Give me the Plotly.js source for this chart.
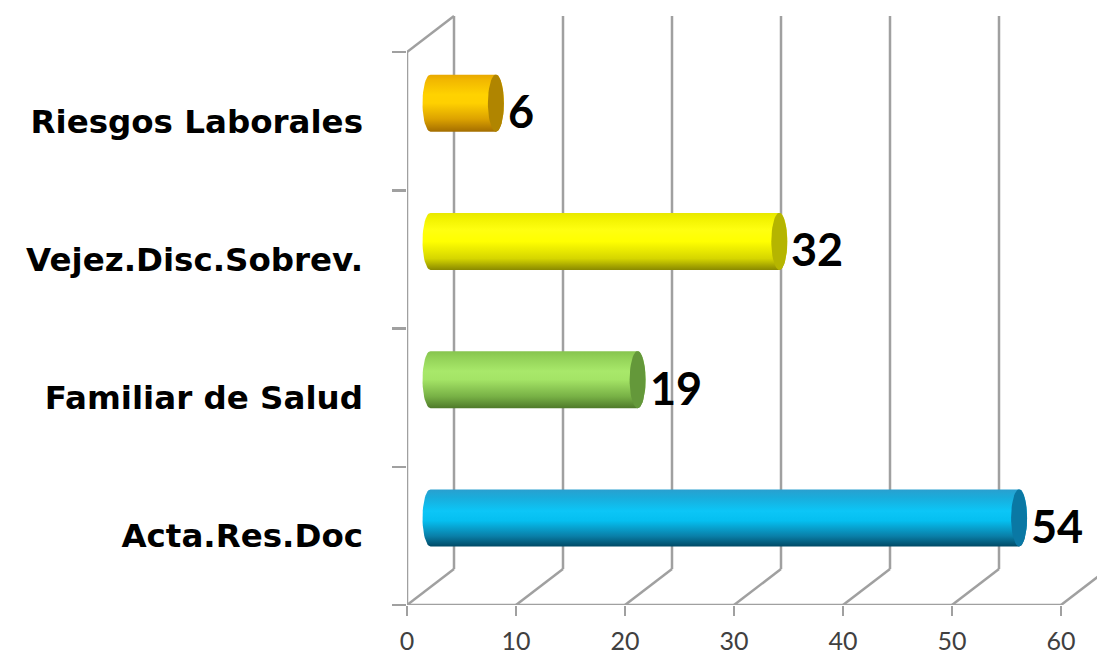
<!DOCTYPE html>
<html>
<head>
<meta charset="utf-8">
<script src="https://cdn.plot.ly/plotly-3.0.1.min.js"></script>
<style>html,body{margin:0;padding:0;background:#fff;}#chart{width:1097px;height:660px;}</style>
</head>
<body>
<div id="chart"></div>
<script>
// ---- data ----
const categories = ['Acta.Res.Doc', 'Familiar de Salud', 'Vejez.Disc.Sobrev.', 'Riesgos Laborales'];
const values = [54, 19, 32, 6];
const xTicks = [0, 10, 20, 30, 40, 50, 60];
const valueLabels = ['54', '19', '32', '6'];

// ---- styles ----
const bodyScales = [
  [[0,'#004a66'],[0.18,'#0a7fa8'],[0.45,'#05bff0'],[0.62,'#0cc6f7'],[0.85,'#19addc'],[1,'#2a9fcf']],
  [[0,'#4f7a2a'],[0.2,'#77b045'],[0.5,'#a4e466'],[0.65,'#a8e86a'],[0.88,'#93d258'],[1,'#86c44e']],
  [[0,'#8a8a00'],[0.2,'#d6d600'],[0.5,'#ffff00'],[0.7,'#ffff10'],[0.9,'#f2f200'],[1,'#e8e800']],
  [[0,'#a46e00'],[0.22,'#dca200'],[0.5,'#ffd000'],[0.65,'#ffd200'],[0.9,'#f2b800'],[1,'#e8a800']]
];
const capColors = ['#0a78a4', '#64983a', '#b5b500', '#b08500'];
const gridColor = '#a0a0a0';

// pixel geometry of the frame
const W = 1097, H = 660, L = 407, B = 55, T = 15;
const PXX = 654 / 60;        // px per x unit
const PXY = 553 / 4;         // px per category
const xMax = (W - L) / PXX;
const yMax = (H - B - T) / PXY;
const DX = 47 / PXX, DY = 36 / PXY;      // depth offset
const RX = 8 / PXX, RY = 28.5 / PXY;     // cylinder end ellipse radii
const nCat = categories.length;

function ellipsePts(cx, cy, a0, a1, n) {
  const xs = [], ys = [];
  for (let k = 0; k <= n; k++) {
    const a = a0 + (a1 - a0) * k / n;
    xs.push(cx + RX * Math.cos(a));
    ys.push(cy + RY * Math.sin(a));
  }
  return [xs, ys];
}

const traces = [];
const annotations = [];
values.forEach((v, i) => {
  const cy = i + 0.5 + DY / 2;
  const x0 = DX / 2, x1 = DX / 2 + v;
  const [lx, ly] = ellipsePts(x0, cy, Math.PI / 2, 3 * Math.PI / 2, 24);
  const [rx, ry] = ellipsePts(x1, cy, 3 * Math.PI / 2, 5 * Math.PI / 2, 24);
  traces.push({
    type: 'scatter', mode: 'lines', x: lx.concat(rx), y: ly.concat(ry),
    fill: 'toself', line: {width: 0}, hoverinfo: 'skip', showlegend: false,
    fillcolor: bodyScales[i][3][1],
    fillgradient: {type: 'vertical', colorscale: bodyScales[i]}
  });
  const [cx, cyy] = ellipsePts(x1, cy, 0, 2 * Math.PI, 48);
  traces.push({
    type: 'scatter', mode: 'lines', x: cx, y: cyy,
    fill: 'toself', fillcolor: capColors[i], line: {width: 0},
    hoverinfo: 'skip', showlegend: false
  });
  annotations.push({
    x: x1 + RX + 2 / PXX, y: cy - 8 / PXY, xref: 'x', yref: 'y',
    text: valueLabels[i], showarrow: false, xanchor: 'left', yanchor: 'middle',
    font: {family: 'Lato, sans-serif', size: 45, color: '#000', weight: 'bold'}
  });
});

// 3D frame / gridlines
const shapes = [];
const ln = (xa, ya, xb, yb) => shapes.push({type: 'line', xref: 'x', yref: 'y', x0: xa, y0: ya, x1: xb, y1: yb, layer: 'below', line: {color: gridColor, width: 2.5}});
xTicks.forEach(t => {
  ln(t, 0, t + DX, DY);
  ln(t + DX, DY, t + DX, nCat + DY);
});
ln(0, 0, xTicks[xTicks.length - 1], 0);
ln(0, 0, 0, nCat);
ln(0, nCat, DX, nCat + DY);

const layout = {
  width: W, height: H,
  margin: {l: L, r: 0, t: T, b: B, pad: 0, autoexpand: false},
  paper_bgcolor: '#fff', plot_bgcolor: 'rgba(0,0,0,0)',
  showlegend: false,
  xaxis: {
    range: [0, xMax], tickvals: xTicks, ticktext: xTicks.map(String),
    showgrid: false, zeroline: false, showline: false,
    ticks: 'outside', ticklen: 10, tickwidth: 2.5, tickcolor: gridColor,
    ticklabelstandoff: 4,
    tickfont: {family: 'Lato, sans-serif', size: 25, color: '#404040'},
    fixedrange: true
  },
  yaxis: {
    range: [0, yMax], tickvals: [0, 1, 2, 3, 4], showticklabels: false,
    showgrid: false, zeroline: false, showline: false,
    ticks: 'outside', ticklen: 14, tickwidth: 2.5, tickcolor: gridColor,
    fixedrange: true
  },
  yaxis2: {
    overlaying: 'y', side: 'left', range: [0, yMax],
    tickvals: categories.map((c, i) => i + 0.5), ticktext: categories,
    showgrid: false, zeroline: false, showline: false, ticks: '',
    ticklabelstandoff: 43,
    tickfont: {family: '"DejaVu Sans", sans-serif', size: 32.5, color: '#000', weight: 'bold'},
    fixedrange: true
  },
  shapes: shapes,
  annotations: annotations
};
// invisible trace to activate yaxis2
traces.push({type: 'scatter', x: [0], y: [0], yaxis: 'y2', mode: 'markers', marker: {opacity: 0}, hoverinfo: 'skip', showlegend: false});

Plotly.newPlot('chart', traces, layout, {displayModeBar: false, staticPlot: true});
</script>
</body>
</html>
